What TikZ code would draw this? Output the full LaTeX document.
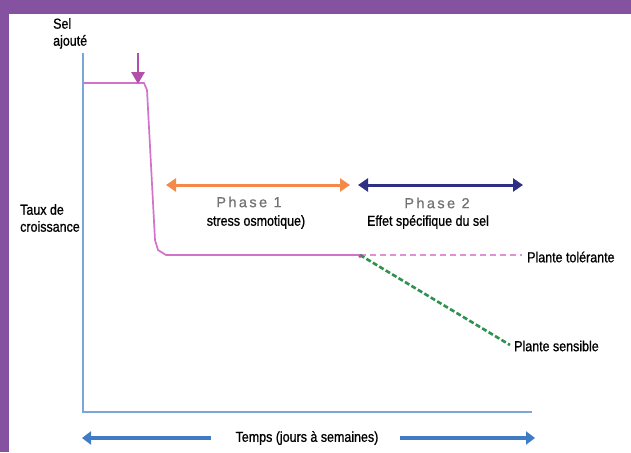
\documentclass[tikz,border=0pt]{standalone}
\usepackage{fontspec}
\setmainfont{Liberation Sans}[FakeStretch=0.86, FakeBold=0.9]
\newfontfamily\phasefont{Liberation Sans}[FakeBold=0.6]
\usetikzlibrary{arrows.meta}
\definecolor{purp}{HTML}{8552A1}
\definecolor{axisblue}{HTML}{7AA6DA}
\definecolor{darkblue}{HTML}{3F7CC3}
\definecolor{curvepink}{HTML}{D272CB}
\definecolor{lightpink}{HTML}{E08FD8}
\definecolor{saltmag}{HTML}{B24FA9}
\definecolor{orangeA}{HTML}{F5894A}
\definecolor{navyA}{HTML}{2E3083}
\definecolor{greenA}{HTML}{2E9150}
\tikzset{
  lbl/.style={font=\fontsize{14.5}{17}\selectfont, text=black, inner sep=0pt},
  phaselbl/.style={font=\phasefont\fontsize{14.5}{16}\selectfont, text=black!55, inner sep=0pt},
  axisline/.style={draw=axisblue, line width=1.6pt},
  curve/.style={draw=curvepink, line width=1.7pt},
  phasearrow/.style={line width=3pt, {Triangle[length=10pt,width=13pt]}-{Triangle[length=10pt,width=13pt]}},
  timearrow/.style={draw=darkblue, line width=3.4pt, -{Triangle[length=9pt,width=13pt]}},
}
\begin{document}
\begin{tikzpicture}[x=1pt,y=-1pt]
\fill[purp] (0,0) rectangle (631,452);
\fill[white] (9,14) rectangle (631,452);
\useasboundingbox (0,0) rectangle (631,452);

% axes
\coordinate (yt) at (83,53);
\coordinate (o) at (83,412);
\coordinate (xe) at (532,412);
\draw[axisline] (yt) -- (o) -- (xe);

% growth curve
\coordinate (c0) at (83,83);
\coordinate (c1) at (144,83);
\coordinate (c2) at (147,90);
\coordinate (c3) at (155,240);
\coordinate (c4) at (158,250);
\coordinate (c5) at (166,255);
\coordinate (split) at (360,255);
\draw[curve] (c0) -- (c1) -- (c2) -- (c3) -- (c4) -- (c5) -- (split);

% tolerant / sensitive
\coordinate (tolend) at (522,255);
\coordinate (senend) at (510,345);
\draw[draw=lightpink, line width=1.4pt, dash pattern=on 6pt off 4pt] (split) -- (tolend);
\draw[draw=greenA, line width=2.6pt, dash pattern=on 5pt off 2.5pt] (split) -- (senend);
\fill[saltmag] (split) ++(0,1.5) circle (1.6pt);

% salt arrow
\coordinate (st) at (138,53);
\coordinate (sb) at (138,84);
\draw[draw=saltmag, fill=saltmag, line width=2.8pt, -{Triangle[length=12pt,width=13pt]}] (st) -- (sb);

% phase arrows
\coordinate (p1a) at (166,185);
\coordinate (p1b) at (350,185);
\coordinate (p2a) at (358,185);
\coordinate (p2b) at (523,185);
\draw[phasearrow, draw=orangeA, fill=orangeA] (p1a) -- (p1b);
\draw[phasearrow, draw=navyA, fill=navyA] (p2a) -- (p2b);

% labels
\node[lbl, anchor=north west, align=left] (sel) at (53,18) {Sel\\ajouté};
\node[lbl, anchor=north west, align=left] (taux) at (20,204) {Taux de\\croissance};
\node[phaselbl] (ph1) at (249,202) {P\,h\,a\,s\,e\, 1};
\node[lbl] (st1) at (256,222) {stress osmotique)};
\node[phaselbl] (ph2) at (437,203) {P\,h\,a\,s\,e\, 2};
\node[lbl] (st2) at (428,222) {Effet spécifique du sel};
\node[lbl, anchor=west] (tol) at (527,257) {Plante tolérante};
\node[lbl, anchor=west] (sen) at (514,346) {Plante sensible};

% time arrow
\node[lbl] (temps) at (307,438) {Temps (jours à semaines)};
\coordinate (tl0) at (211,438);
\coordinate (tl1) at (82,438);
\coordinate (tr0) at (400,438);
\coordinate (tr1) at (535,438);
\draw[timearrow] (tl0) -- (tl1);
\draw[timearrow] (tr0) -- (tr1);
\end{tikzpicture}
\end{document}
